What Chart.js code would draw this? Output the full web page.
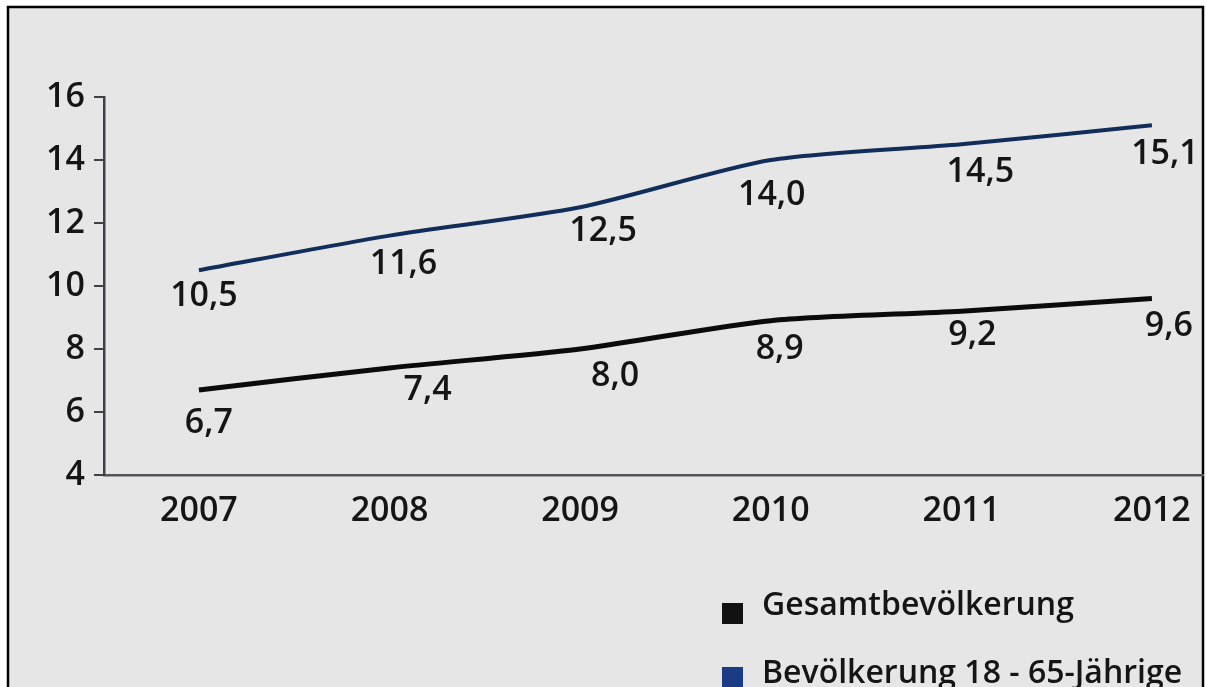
<!DOCTYPE html>
<html>
<head>
<meta charset="utf-8">
<script src="https://cdn.jsdelivr.net/npm/chart.js@4/dist/chart.umd.min.js"></script>
<style>
  html, body { margin: 0; padding: 0; background: #ffffff; }
  canvas { display: block; }
</style>
</head>
<body>
<canvas id="chart" width="1207" height="687"></canvas>
<script>
// Jahre und Werte (in %)
const years = [2007, 2008, 2009, 2010, 2011, 2012];
const gesamt = [6.7, 7.4, 8.0, 8.9, 9.2, 9.6];
const erwerbsalter = [10.5, 11.6, 12.5, 14.0, 14.5, 15.1];
const yTicks = [4, 6, 8, 10, 12, 14, 16];
const seriesNames = ['Gesamtbevölkerung', 'Bevölkerung 18 - 65-Jährige'];

// Versatz der Wertbeschriftungen gegenüber dem Punkt (px)
const labelOffsetsGesamt = [[10, 33], [38, 22], [35, 27], [9, 29], [11, 24], [17, 28]];
const labelOffsetsErwerb = [[5, 26], [14, 29], [23, 24], [1, 35], [19, 28], [13, 29]];

const FONT = '"Open Sans", "Liberation Sans", sans-serif';
const WEIGHT = '600';
const SIZE = 34;
const TEXT = '#151515';
const AXIS = '#40404a';

const toPoints = vals => vals.map((v, i) => ({ x: years[i], y: v }));
const fmt = v => v.toFixed(1).replace('.', ',');

// Rahmen und Hintergrund
const framePlugin = {
  id: 'frame',
  beforeDraw(chart) {
    const ctx = chart.ctx;
    ctx.save();
    ctx.fillStyle = '#ffffff';
    ctx.fillRect(0, 0, chart.width, chart.height);
    ctx.fillStyle = '#e6e6e6';
    ctx.fillRect(8, 6, 1195, chart.height - 6);
    ctx.strokeStyle = '#000000';
    ctx.lineWidth = 2.5;
    ctx.beginPath();
    ctx.moveTo(8, chart.height);
    ctx.lineTo(8, 7);
    ctx.lineTo(1203, 7);
    ctx.lineTo(1203, chart.height);
    ctx.stroke();
    ctx.restore();
  }
};

// Wertbeschriftungen an den Linien
const valueLabels = {
  id: 'valueLabels',
  afterDatasetsDraw(chart) {
    const ctx = chart.ctx;
    ctx.save();
    ctx.font = WEIGHT + ' ' + SIZE + 'px ' + FONT;
    ctx.fillStyle = TEXT;
    ctx.textAlign = 'center';
    ctx.textBaseline = 'middle';
    chart.data.datasets.forEach((ds, di) => {
      const meta = chart.getDatasetMeta(di);
      meta.data.forEach((pt, i) => {
        const off = ds.labelOffsets[i];
        ctx.fillText(fmt(ds.data[i].y), pt.x + off[0], pt.y + off[1]);
      });
    });
    ctx.restore();
  }
};

// Legende unten rechts
const legendBox = {
  id: 'legendBox',
  afterDraw(chart) {
    const ctx = chart.ctx;
    ctx.save();
    ctx.font = WEIGHT + ' 32px ' + FONT;
    ctx.textBaseline = 'alphabetic';
    ctx.textAlign = 'left';
    chart.data.datasets.forEach((ds, i) => {
      const top = 603 + i * 64;
      ctx.fillStyle = ds.backgroundColor;
      ctx.fillRect(722, top, 21, 21);
      ctx.fillStyle = TEXT;
      ctx.fillText(ds.label, 762, 615 + i * 68);
    });
    ctx.restore();
  }
};

new Chart(document.getElementById('chart'), {
  type: 'line',
  data: {
    datasets: [
      {
        label: seriesNames[0],
        data: toPoints(gesamt),
        borderColor: '#0b0b0b',
        backgroundColor: '#111111',
        borderWidth: 5,
        tension: 0.25,
        pointRadius: 0,
        labelOffsets: labelOffsetsGesamt
      },
      {
        label: seriesNames[1],
        data: toPoints(erwerbsalter),
        borderColor: '#112d5a',
        backgroundColor: '#1b3c84',
        borderWidth: 4,
        tension: 0.25,
        pointRadius: 0,
        labelOffsets: labelOffsetsErwerb
      }
    ]
  },
  options: {
    responsive: false,
    animation: false,
    layout: { padding: { top: 97, left: 0, right: 4, bottom: 142 } },
    plugins: {
      legend: { display: false },
      tooltip: { enabled: false }
    },
    scales: {
      x: {
        type: 'linear',
        min: 2006.502,
        max: 2012.268,
        afterBuildTicks: scale => { scale.ticks = years.map(v => ({ value: v })); },
        afterFit: scale => { scale.height = 70; },
        grid: { display: false },
        border: { display: true, color: '#55555c', width: 2.5 },
        ticks: {
          color: TEXT,
          font: { family: FONT, size: SIZE, weight: WEIGHT },
          padding: 8,
          maxRotation: 0,
          autoSkip: false,
          callback: v => String(v)
        }
      },
      y: {
        min: 4,
        max: 16,
        afterBuildTicks: scale => { scale.ticks = yTicks.map(v => ({ value: v })); },
        afterFit: scale => { scale.width = 104; },
        grid: {
          drawOnChartArea: false,
          drawTicks: true,
          tickLength: 10,
          color: AXIS,
          lineWidth: 2
        },
        border: { display: true, color: AXIS, width: 2.5 },
        ticks: {
          color: TEXT,
          font: { family: FONT, size: SIZE, weight: WEIGHT },
          padding: 9,
          callback: v => String(v)
        }
      }
    }
  },
  plugins: [framePlugin, valueLabels, legendBox]
});
</script>
</body>
</html>
